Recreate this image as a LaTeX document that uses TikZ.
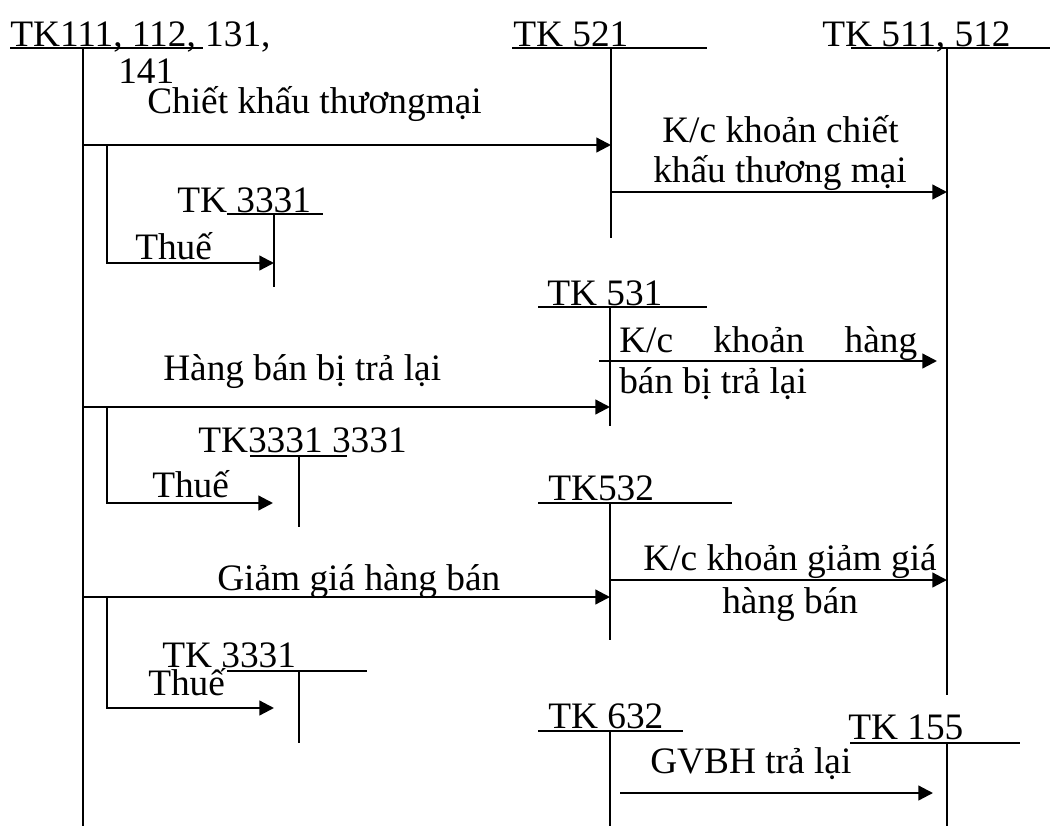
\documentclass[tikz,border=0pt]{standalone}
\usepackage{fontspec}
\setmainfont{Liberation Serif}
\usetikzlibrary{arrows.meta}
\begin{document}
\begin{tikzpicture}[x=0.75pt,y=-0.75pt,
  lbl/.style={inner sep=0pt,anchor=base west,font=\fontsize{28}{33}\selectfont},
  topbar/.style={line width=1.1pt},
  stem/.style={line width=1.5pt},
  flow/.style={line width=1.7pt,-{Triangle[length=11pt,width=11pt]}},
]
\useasboundingbox (0,0) rectangle (1054,826);

% ---------- T-account tops (bar) and stems ----------
% TK 111, 112, 131, 141
\coordinate (a111L) at (10,48);  \coordinate (a111R) at (203,48);
\coordinate (a111T) at (83,48);  \coordinate (a111B) at (83,826);
% TK 521
\coordinate (a521L) at (512,48); \coordinate (a521R) at (707,48);
\coordinate (a521T) at (611,48); \coordinate (a521B) at (611,238);
% TK 511, 512
\coordinate (a511L) at (851,48); \coordinate (a511R) at (1050,48);
\coordinate (a511T) at (947,48); \coordinate (a511B) at (947,695);
% TK 3331 (first)
\coordinate (v1L) at (227,214);  \coordinate (v1R) at (323,214);
\coordinate (v1T) at (274,214);  \coordinate (v1B) at (274,287);
% TK 531
\coordinate (a531L) at (538,307); \coordinate (a531R) at (707,307);
\coordinate (a531T) at (610,307); \coordinate (a531B) at (610,426);
% TK 3331 (second)
\coordinate (v2L) at (250,456);  \coordinate (v2R) at (347,456);
\coordinate (v2T) at (299,456);  \coordinate (v2B) at (299,527);
% TK 532
\coordinate (a532L) at (538,503); \coordinate (a532R) at (732,503);
\coordinate (a532T) at (610,503); \coordinate (a532B) at (610,640);
% TK 3331 (third)
\coordinate (v3L) at (227,671);  \coordinate (v3R) at (367,671);
\coordinate (v3T) at (299,671);  \coordinate (v3B) at (299,743);
% TK 632
\coordinate (a632L) at (538,731); \coordinate (a632R) at (683,731);
\coordinate (a632T) at (610,731); \coordinate (a632B) at (610,826);
% TK 155
\coordinate (a155L) at (850,743); \coordinate (a155R) at (1020,743);
\coordinate (a155T) at (947,743); \coordinate (a155B) at (947,826);

\foreach \a in {a111,a521,a511,v1,a531,v2,a532,v3,a632,a155}{
  \draw[topbar] (\a L) -- (\a R);
  \draw[stem] (\a T) -- (\a B);
}

% ---------- account titles ----------
\node[lbl] (n111) at (10,46)  {TK111, 112, 131,};
\node[lbl] (n141) at (118,83) {141};
\node[lbl] (n521) at (513,46) {TK 521};
\node[lbl] (n511) at (822,46) {TK 511, 512};
\node[lbl] (nv1)  at (177,212) {TK 3331};
\node[lbl] (n531) at (547,305) {TK 531};
\node[lbl] (nv2)  at (198,452) {TK3331 3331};
\node[lbl] (n532) at (548,500) {TK532};
\node[lbl] (nv3)  at (162,667) {TK 3331};
\node[lbl] (n632) at (548,728) {TK 632};
\node[lbl] (n155) at (848,739) {TK 155};

% ---------- flow points ----------
\coordinate (s1) at (83,145);   \coordinate (e1) at (611,145);
\coordinate (b1) at (107,145);  \coordinate (c1) at (107,263); \coordinate (e2) at (274,263);
\coordinate (s3) at (612,192);  \coordinate (e3) at (947,192);
\coordinate (s4) at (83,407);   \coordinate (e4) at (610,407);
\coordinate (b4) at (107,407);  \coordinate (c4) at (107,503); \coordinate (e5) at (273,503);
\coordinate (s6) at (599,361);  \coordinate (e6) at (937,361);
\coordinate (s7) at (83,597);   \coordinate (e7) at (610,597);
\coordinate (b7) at (107,597);  \coordinate (c7) at (107,708); \coordinate (e8) at (274,708);
\coordinate (s9) at (610,580);  \coordinate (e9) at (947,580);
\coordinate (s10) at (620,793); \coordinate (e10) at (933,793);

\draw[flow] (s1) -- (e1);
\draw[flow] (b1) -- (c1) -- (e2);
\draw[flow] (s3) -- (e3);
\draw[flow] (s4) -- (e4);
\draw[flow] (b4) -- (c4) -- (e5);
\draw[flow] (s6) -- (e6);
\draw[flow] (s7) -- (e7);
\draw[flow] (b7) -- (c7) -- (e8);
\draw[flow] (s9) -- (e9);
\draw[flow] (s10) -- (e10);

% ---------- flow labels ----------
\node[lbl] (l1)  at (147,113) {Chiết khấu thươngmại};
\node[lbl] (l2)  at (135,259) {Thuế};
\node[lbl] (l3a) at (662,142) {K/c khoản chiết};
\node[lbl] (l3b) at (653,182) {khấu thương mại};
\node[lbl] (l4)  at (163,380) {Hàng bán bị trả lại};
\node[lbl] (l5)  at (152,497) {Thuế};
\node[lbl] (l6a) at (619,352) {\hbox to 223.5pt{K/c\hfill khoản\hfill hàng}};
\node[lbl] (l6b) at (619,393) {bán bị trả lại};
\node[lbl] (l7)  at (217,590) {Giảm giá hàng bán};
\node[lbl] (l8)  at (148,695) {Thuế};
\node[lbl] (l9a) at (643,570) {K/c khoản giảm giá};
\node[lbl] (l9b) at (722,613) {hàng bán};
\node[lbl] (l10) at (650,773) {GVBH trả lại};
\end{tikzpicture}
\end{document}
